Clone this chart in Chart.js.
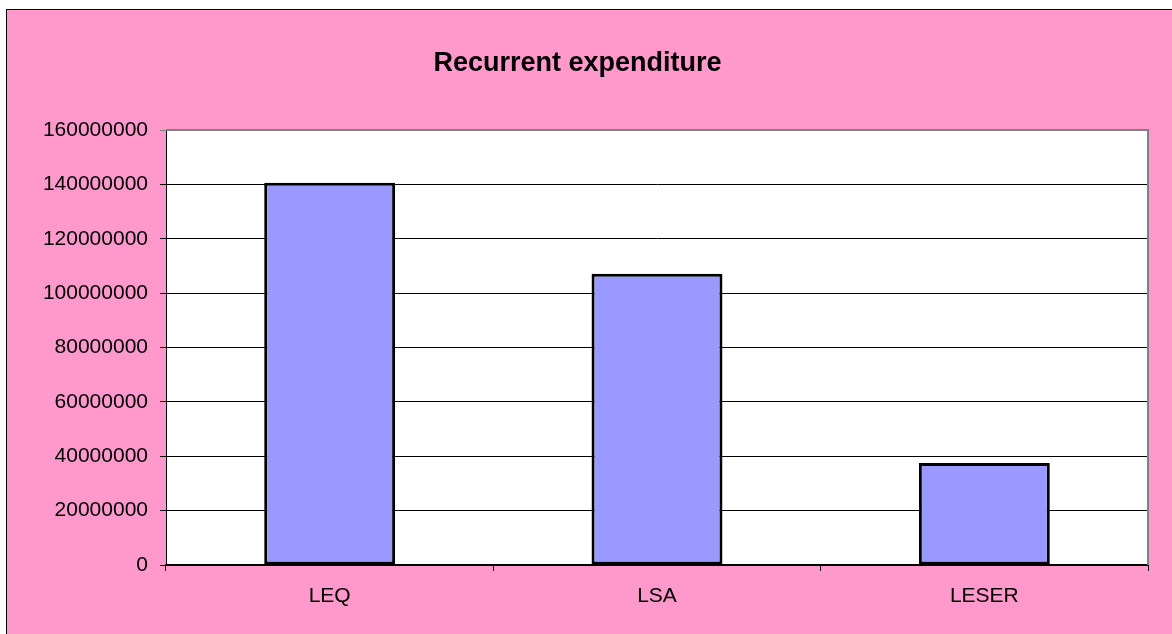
<!DOCTYPE html>
<html>
<head>
<meta charset="utf-8">
<script src="https://cdn.jsdelivr.net/npm/chart.js@4/dist/chart.umd.min.js"></script>
<style>
  html, body { margin: 0; padding: 0; background: #fff; overflow: hidden; }
  #frame {
    position: absolute; left: 6px; top: 9px;
    width: 1166px; height: 625px;
    background: #FF99CC;
    border-left: 1px solid #000; border-top: 1px solid #000;
  }
  #chart { display: block; }
</style>
</head>
<body>
<div id="frame"><canvas id="chart" width="1166" height="625"></canvas></div>
<script>
const categories = ['LEQ', 'LSA', 'LESER'];
const expenditure = [140600000, 107100000, 37500000];
const yMax = 160000000;
const yStep = 20000000;

// white plot area, grey frame on top and right like the old office charts
const plotBackground = {
    id: 'plotBackground',
    beforeDraw(chart) {
        const { ctx, chartArea: a } = chart;
        ctx.save();
        ctx.fillStyle = '#fff';
        ctx.fillRect(a.left, a.top, a.right - a.left, a.bottom - a.top);
        ctx.restore();
    },
    afterDatasetsDraw(chart) {
        const { ctx, chartArea: a } = chart;
        ctx.save();
        ctx.strokeStyle = '#808080';
        ctx.lineWidth = 2;
        ctx.beginPath();
        ctx.moveTo(a.left, a.top);
        ctx.lineTo(a.right, a.top);
        ctx.lineTo(a.right, a.bottom);
        ctx.stroke();
        ctx.restore();
    }
};

const font = { family: '"Liberation Sans", Arial, sans-serif', size: 21 };

new Chart(document.getElementById('chart'), {
    type: 'bar',
    data: {
        labels: categories,
        datasets: [{
            data: expenditure,
            backgroundColor: '#9999FF',
            borderColor: '#000',
            borderWidth: 3,
            borderSkipped: false,
            barPercentage: 0.4,
            categoryPercentage: 1.0
        }]
    },
    options: {
        responsive: false,
        animation: false,
        layout: { padding: { left: 0, right: 25, top: 0, bottom: 0 } },
        plugins: {
            legend: { display: false },
            tooltip: { enabled: false },
            title: {
                display: true,
                text: 'Recurrent expenditure',
                color: '#000',
                font: { family: font.family, size: 27, weight: 'bold' },
                padding: { top: 37, bottom: 50.6 }
            }
        },
        scales: {
            x: {
                offset: true,
                grid: {
                    offset: true,
                    drawOnChartArea: false,
                    drawTicks: true,
                    tickLength: 6,
                    color: '#000'
                },
                border: { color: '#000', width: 2 },
                ticks: { color: '#000', font: font, padding: 13 },
                afterFit(scale) { scale.height = 70; }
            },
            y: {
                min: 0,
                max: yMax,
                ticks: {
                    stepSize: yStep,
                    color: '#000',
                    font: font,
                    padding: 12,
                    callback: v => String(v)
                },
                grid: {
                    color: ctx => (ctx.tick && ctx.tick.value === yMax) ? '#808080' : '#000',
                    tickLength: 6
                },
                border: { color: '#000', width: 1 },
                afterFit(scale) { scale.width = 159; }
            }
        }
    },
    plugins: [plotBackground]
});
</script>
</body>
</html>
